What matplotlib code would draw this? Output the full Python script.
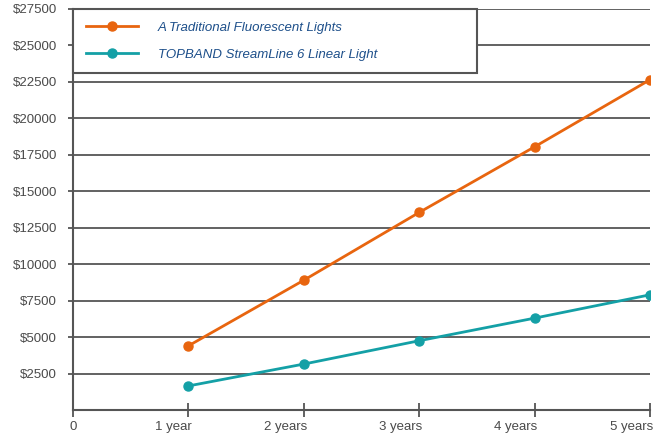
import matplotlib.pyplot as plt
import matplotlib.transforms as mtransforms

# data
periods = ['0', '1 year', '2 years', '3 years', '4 years', '5 years']
years = [1, 2, 3, 4, 5]
fluorescent_cost = [4400, 8900, 13550, 18050, 22650]
topband_cost = [1650, 3150, 4750, 6300, 7900]
series_names = ['A Traditional Fluorescent Lights', 'TOPBAND StreamLine 6 Linear Light']
y_ticks = list(range(2500, 27501, 2500))

plt.rcParams['font.family'] = ['Liberation Sans', 'DejaVu Sans']

orange = '#e8650f'
teal = '#14a0a6'
axis_gray = '#555555'
label_gray = '#4a4a4a'
legend_blue = '#1d4f8a'

fig = plt.figure(figsize=(6.65, 4.36), dpi=100)
ax = fig.add_axes([73 / 665, 1 - 410 / 436, 577 / 665, 401 / 436])

# horizontal gridlines
for v in y_ticks:
    ax.axhline(v, color=axis_gray, lw=1.3, zorder=1)

ax.plot(years, fluorescent_cost, color=orange, lw=2, marker='o', ms=6.5,
        label=series_names[0], zorder=3)
ax.plot(years, topband_cost, color=teal, lw=2, marker='o', ms=6.5,
        label=series_names[1], zorder=3)

ax.set_xlim(0, 5)
ax.set_ylim(0, 27500)
ax.set_xticks(range(len(periods)))
ax.set_xticklabels(periods)
ax.set_yticks(y_ticks)
ax.set_yticklabels([f'${v}' for v in y_ticks])

for side in ['top', 'right']:
    ax.spines[side].set_visible(False)
for side in ['left', 'bottom']:
    ax.spines[side].set_color(axis_gray)
    ax.spines[side].set_linewidth(1.5)

ax.tick_params(axis='x', direction='inout', length=10, width=1.3, color=axis_gray,
               labelsize=9.5, labelcolor=label_gray, pad=3)
ax.tick_params(axis='y', direction='out', length=3.6, width=1.3, color=axis_gray,
               labelsize=9.5, labelcolor=label_gray, pad=8)

# x labels sit just left of their tick, ending a few pixels past it
shift = mtransforms.ScaledTranslation(3 / 100, 0, fig.dpi_scale_trans)
for i, lbl in enumerate(ax.get_xticklabels()):
    if i == 0:
        continue
    lbl.set_horizontalalignment('right')
    lbl.set_transform(lbl.get_transform() + shift)

leg = ax.legend(loc='upper left', bbox_to_anchor=(0, 0, 404 / 577, 1), mode='expand',
                borderaxespad=0, fontsize=9.5, handlelength=4.0, handletextpad=1.5,
                labelspacing=1.1, borderpad=0.95, fancybox=False, framealpha=1)
leg.get_frame().set_edgecolor(axis_gray)
leg.get_frame().set_linewidth(1.5)
leg.set_zorder(5)
for t in leg.get_texts():
    t.set_color(legend_blue)
    t.set_fontstyle('italic')

fig.savefig('out.png', dpi=100)
